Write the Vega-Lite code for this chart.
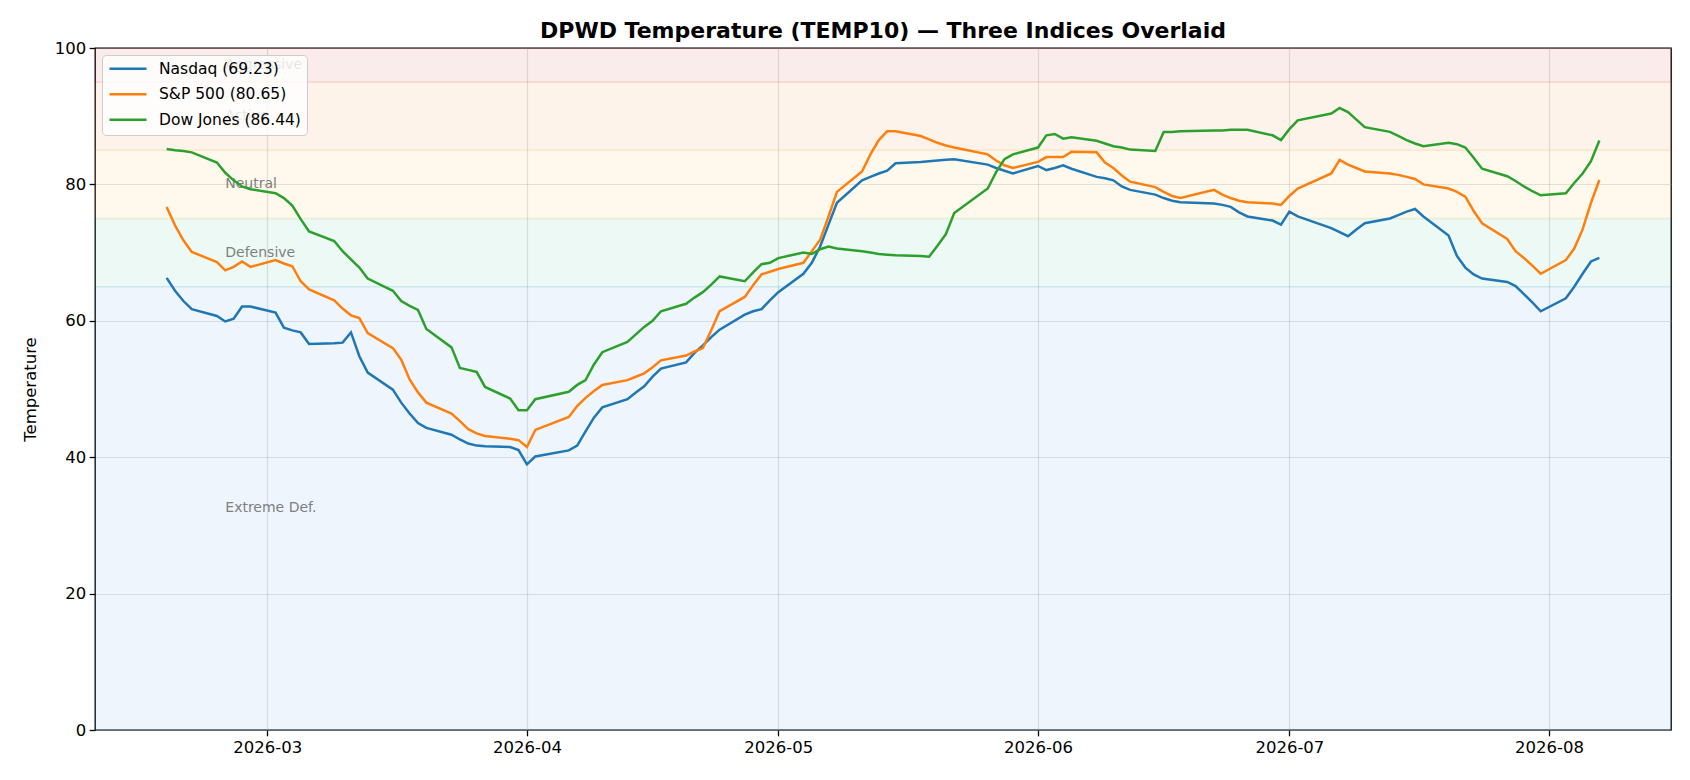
{
  "$schema": "https://vega.github.io/schema/vega-lite/v6.json",
  "width": 1576,
  "height": 682,
  "autosize": "none",
  "padding": {"left": 95, "top": 48, "right": 19, "bottom": 50},
  "background": "white",
  "title": {
    "text": "DPWD Temperature (TEMP10) — Three Indices Overlaid",
    "fontSize": 22,
    "fontWeight": "bold",
    "font": "DejaVu Sans",
    "color": "#000",
    "anchor": "middle",
    "offset": -3
  },
  "datasets": {
    "bands": [
      {"band": "Extreme Def.", "lo": 0, "hi": 65, "mid": 32.5},
      {"band": "Defensive", "lo": 65, "hi": 75, "mid": 70},
      {"band": "Neutral", "lo": 75, "hi": 85, "mid": 80},
      {"band": "Active", "lo": 85, "hi": 95, "mid": 90},
      {"band": "Aggressive", "lo": 95, "hi": 100, "mid": 97.5}
    ],
    "temps": [
      {"date": "2026-02-17", "Nasdaq": 66.3, "S&P 500": 76.7, "Dow Jones": 85.2},
      {"date": "2026-02-18", "Nasdaq": 64.4, "S&P 500": 74.0, "Dow Jones": 85.0},
      {"date": "2026-02-19", "Nasdaq": 62.9, "S&P 500": 71.8, "Dow Jones": 84.9},
      {"date": "2026-02-20", "Nasdaq": 61.7, "S&P 500": 70.1, "Dow Jones": 84.7},
      {"date": "2026-02-23", "Nasdaq": 60.7, "S&P 500": 68.6, "Dow Jones": 83.2},
      {"date": "2026-02-24", "Nasdaq": 59.9, "S&P 500": 67.4, "Dow Jones": 81.7},
      {"date": "2026-02-25", "Nasdaq": 60.3, "S&P 500": 67.9, "Dow Jones": 80.6},
      {"date": "2026-02-26", "Nasdaq": 62.1, "S&P 500": 68.7, "Dow Jones": 79.7},
      {"date": "2026-02-27", "Nasdaq": 62.1, "S&P 500": 67.9, "Dow Jones": 79.3},
      {"date": "2026-03-02", "Nasdaq": 61.2, "S&P 500": 68.9, "Dow Jones": 78.7},
      {"date": "2026-03-03", "Nasdaq": 59.0, "S&P 500": 68.4, "Dow Jones": 78.0},
      {"date": "2026-03-04", "Nasdaq": 58.6, "S&P 500": 68.0, "Dow Jones": 76.9},
      {"date": "2026-03-05", "Nasdaq": 58.3, "S&P 500": 65.8, "Dow Jones": 74.9},
      {"date": "2026-03-06", "Nasdaq": 56.6, "S&P 500": 64.6, "Dow Jones": 73.1},
      {"date": "2026-03-09", "Nasdaq": 56.7, "S&P 500": 63.0, "Dow Jones": 71.7},
      {"date": "2026-03-10", "Nasdaq": 56.8, "S&P 500": 61.8, "Dow Jones": 70.2},
      {"date": "2026-03-11", "Nasdaq": 58.3, "S&P 500": 60.8, "Dow Jones": 69.0},
      {"date": "2026-03-12", "Nasdaq": 54.8, "S&P 500": 60.4, "Dow Jones": 67.8},
      {"date": "2026-03-13", "Nasdaq": 52.4, "S&P 500": 58.2, "Dow Jones": 66.2},
      {"date": "2026-03-16", "Nasdaq": 49.9, "S&P 500": 56.0, "Dow Jones": 64.4},
      {"date": "2026-03-17", "Nasdaq": 48.0, "S&P 500": 54.3, "Dow Jones": 62.9},
      {"date": "2026-03-18", "Nasdaq": 46.4, "S&P 500": 51.4, "Dow Jones": 62.2},
      {"date": "2026-03-19", "Nasdaq": 45.0, "S&P 500": 49.5, "Dow Jones": 61.6},
      {"date": "2026-03-20", "Nasdaq": 44.3, "S&P 500": 48.0, "Dow Jones": 58.8},
      {"date": "2026-03-23", "Nasdaq": 43.3, "S&P 500": 46.4, "Dow Jones": 56.1},
      {"date": "2026-03-24", "Nasdaq": 42.6, "S&P 500": 45.3, "Dow Jones": 53.1},
      {"date": "2026-03-25", "Nasdaq": 42.0, "S&P 500": 44.1, "Dow Jones": 52.8},
      {"date": "2026-03-26", "Nasdaq": 41.7, "S&P 500": 43.5, "Dow Jones": 52.5},
      {"date": "2026-03-27", "Nasdaq": 41.6, "S&P 500": 43.1, "Dow Jones": 50.3},
      {"date": "2026-03-30", "Nasdaq": 41.5, "S&P 500": 42.7, "Dow Jones": 48.6},
      {"date": "2026-03-31", "Nasdaq": 41.05, "S&P 500": 42.5, "Dow Jones": 46.9},
      {"date": "2026-04-01", "Nasdaq": 38.95, "S&P 500": 41.5, "Dow Jones": 46.9},
      {"date": "2026-04-02", "Nasdaq": 40.1, "S&P 500": 44.0, "Dow Jones": 48.5},
      {"date": "2026-04-06", "Nasdaq": 41.0, "S&P 500": 45.9, "Dow Jones": 49.6},
      {"date": "2026-04-07", "Nasdaq": 41.7, "S&P 500": 47.5, "Dow Jones": 50.6},
      {"date": "2026-04-08", "Nasdaq": 43.8, "S&P 500": 48.7, "Dow Jones": 51.3},
      {"date": "2026-04-09", "Nasdaq": 45.8, "S&P 500": 49.7, "Dow Jones": 53.6},
      {"date": "2026-04-10", "Nasdaq": 47.3, "S&P 500": 50.6, "Dow Jones": 55.4},
      {"date": "2026-04-13", "Nasdaq": 48.5, "S&P 500": 51.3, "Dow Jones": 56.9},
      {"date": "2026-04-14", "Nasdaq": 49.5, "S&P 500": 51.8, "Dow Jones": 58.0},
      {"date": "2026-04-15", "Nasdaq": 50.4, "S&P 500": 52.3, "Dow Jones": 59.1},
      {"date": "2026-04-16", "Nasdaq": 51.8, "S&P 500": 53.2, "Dow Jones": 60.0},
      {"date": "2026-04-17", "Nasdaq": 53.0, "S&P 500": 54.2, "Dow Jones": 61.4},
      {"date": "2026-04-20", "Nasdaq": 53.9, "S&P 500": 54.9, "Dow Jones": 62.5},
      {"date": "2026-04-21", "Nasdaq": 55.3, "S&P 500": 55.5, "Dow Jones": 63.4},
      {"date": "2026-04-22", "Nasdaq": 56.4, "S&P 500": 56.0, "Dow Jones": 64.2},
      {"date": "2026-04-23", "Nasdaq": 57.6, "S&P 500": 58.6, "Dow Jones": 65.3},
      {"date": "2026-04-24", "Nasdaq": 58.7, "S&P 500": 61.4, "Dow Jones": 66.5},
      {"date": "2026-04-27", "Nasdaq": 60.9, "S&P 500": 63.5, "Dow Jones": 65.8},
      {"date": "2026-04-28", "Nasdaq": 61.4, "S&P 500": 65.2, "Dow Jones": 67.1},
      {"date": "2026-04-29", "Nasdaq": 61.7, "S&P 500": 66.8, "Dow Jones": 68.3},
      {"date": "2026-04-30", "Nasdaq": 63.0, "S&P 500": 67.2, "Dow Jones": 68.5},
      {"date": "2026-05-01", "Nasdaq": 64.2, "S&P 500": 67.6, "Dow Jones": 69.2},
      {"date": "2026-05-04", "Nasdaq": 66.9, "S&P 500": 68.5, "Dow Jones": 70.0},
      {"date": "2026-05-05", "Nasdaq": 68.5, "S&P 500": 70.2, "Dow Jones": 69.8},
      {"date": "2026-05-06", "Nasdaq": 70.9, "S&P 500": 71.9, "Dow Jones": 70.5},
      {"date": "2026-05-07", "Nasdaq": 74.1, "S&P 500": 75.3, "Dow Jones": 70.9},
      {"date": "2026-05-08", "Nasdaq": 77.3, "S&P 500": 78.9, "Dow Jones": 70.6},
      {"date": "2026-05-11", "Nasdaq": 80.6, "S&P 500": 81.9, "Dow Jones": 70.2},
      {"date": "2026-05-12", "Nasdaq": 81.1, "S&P 500": 84.4, "Dow Jones": 70.0},
      {"date": "2026-05-13", "Nasdaq": 81.6, "S&P 500": 86.5, "Dow Jones": 69.8},
      {"date": "2026-05-14", "Nasdaq": 82.0, "S&P 500": 87.8, "Dow Jones": 69.7},
      {"date": "2026-05-15", "Nasdaq": 83.1, "S&P 500": 87.8, "Dow Jones": 69.6},
      {"date": "2026-05-18", "Nasdaq": 83.3, "S&P 500": 87.1, "Dow Jones": 69.5},
      {"date": "2026-05-19", "Nasdaq": 83.4, "S&P 500": 86.6, "Dow Jones": 69.4},
      {"date": "2026-05-20", "Nasdaq": 83.5, "S&P 500": 86.1, "Dow Jones": 71.0},
      {"date": "2026-05-21", "Nasdaq": 83.6, "S&P 500": 85.7, "Dow Jones": 72.7},
      {"date": "2026-05-22", "Nasdaq": 83.7, "S&P 500": 85.4, "Dow Jones": 75.8},
      {"date": "2026-05-26", "Nasdaq": 82.9, "S&P 500": 84.4, "Dow Jones": 79.4},
      {"date": "2026-05-27", "Nasdaq": 82.4, "S&P 500": 83.5, "Dow Jones": 81.8},
      {"date": "2026-05-28", "Nasdaq": 82.0, "S&P 500": 82.8, "Dow Jones": 83.7},
      {"date": "2026-05-29", "Nasdaq": 81.6, "S&P 500": 82.4, "Dow Jones": 84.4},
      {"date": "2026-06-01", "Nasdaq": 82.7, "S&P 500": 83.3, "Dow Jones": 85.4},
      {"date": "2026-06-02", "Nasdaq": 82.1, "S&P 500": 84.0, "Dow Jones": 87.2},
      {"date": "2026-06-03", "Nasdaq": 82.4, "S&P 500": 84.0, "Dow Jones": 87.4},
      {"date": "2026-06-04", "Nasdaq": 82.8, "S&P 500": 84.0, "Dow Jones": 86.7},
      {"date": "2026-06-05", "Nasdaq": 82.3, "S&P 500": 84.8, "Dow Jones": 86.9},
      {"date": "2026-06-08", "Nasdaq": 81.1, "S&P 500": 84.7, "Dow Jones": 86.4},
      {"date": "2026-06-09", "Nasdaq": 80.9, "S&P 500": 83.2, "Dow Jones": 86.0},
      {"date": "2026-06-10", "Nasdaq": 80.6, "S&P 500": 82.4, "Dow Jones": 85.6},
      {"date": "2026-06-11", "Nasdaq": 79.7, "S&P 500": 81.3, "Dow Jones": 85.4},
      {"date": "2026-06-12", "Nasdaq": 79.2, "S&P 500": 80.4, "Dow Jones": 85.1},
      {"date": "2026-06-15", "Nasdaq": 78.5, "S&P 500": 79.6, "Dow Jones": 84.9},
      {"date": "2026-06-16", "Nasdaq": 78.0, "S&P 500": 78.9, "Dow Jones": 87.7},
      {"date": "2026-06-17", "Nasdaq": 77.6, "S&P 500": 78.3, "Dow Jones": 87.7},
      {"date": "2026-06-18", "Nasdaq": 77.4, "S&P 500": 78.0, "Dow Jones": 87.8},
      {"date": "2026-06-22", "Nasdaq": 77.2, "S&P 500": 79.2, "Dow Jones": 87.9},
      {"date": "2026-06-23", "Nasdaq": 77.0, "S&P 500": 78.5, "Dow Jones": 87.9},
      {"date": "2026-06-24", "Nasdaq": 76.7, "S&P 500": 78.0, "Dow Jones": 88.0},
      {"date": "2026-06-25", "Nasdaq": 75.9, "S&P 500": 77.6, "Dow Jones": 88.0},
      {"date": "2026-06-26", "Nasdaq": 75.3, "S&P 500": 77.4, "Dow Jones": 88.0},
      {"date": "2026-06-29", "Nasdaq": 74.7, "S&P 500": 77.2, "Dow Jones": 87.2},
      {"date": "2026-06-30", "Nasdaq": 74.1, "S&P 500": 77.0, "Dow Jones": 86.5},
      {"date": "2026-07-01", "Nasdaq": 76.0, "S&P 500": 78.3, "Dow Jones": 88.1},
      {"date": "2026-07-02", "Nasdaq": 75.3, "S&P 500": 79.4, "Dow Jones": 89.4},
      {"date": "2026-07-06", "Nasdaq": 73.6, "S&P 500": 81.6, "Dow Jones": 90.4},
      {"date": "2026-07-07", "Nasdaq": 73.0, "S&P 500": 83.6, "Dow Jones": 91.2},
      {"date": "2026-07-08", "Nasdaq": 72.4, "S&P 500": 82.9, "Dow Jones": 90.6},
      {"date": "2026-07-09", "Nasdaq": 73.4, "S&P 500": 82.4, "Dow Jones": 89.5},
      {"date": "2026-07-10", "Nasdaq": 74.3, "S&P 500": 81.9, "Dow Jones": 88.4},
      {"date": "2026-07-13", "Nasdaq": 75.0, "S&P 500": 81.6, "Dow Jones": 87.7},
      {"date": "2026-07-14", "Nasdaq": 75.5, "S&P 500": 81.4, "Dow Jones": 87.1},
      {"date": "2026-07-15", "Nasdaq": 76.0, "S&P 500": 81.1, "Dow Jones": 86.5},
      {"date": "2026-07-16", "Nasdaq": 76.4, "S&P 500": 80.8, "Dow Jones": 86.0},
      {"date": "2026-07-17", "Nasdaq": 75.3, "S&P 500": 80.0, "Dow Jones": 85.6},
      {"date": "2026-07-20", "Nasdaq": 72.5, "S&P 500": 79.4, "Dow Jones": 86.1},
      {"date": "2026-07-21", "Nasdaq": 69.5, "S&P 500": 78.9, "Dow Jones": 85.9},
      {"date": "2026-07-22", "Nasdaq": 67.8, "S&P 500": 78.2, "Dow Jones": 85.4},
      {"date": "2026-07-23", "Nasdaq": 66.8, "S&P 500": 76.1, "Dow Jones": 83.9},
      {"date": "2026-07-24", "Nasdaq": 66.2, "S&P 500": 74.3, "Dow Jones": 82.3},
      {"date": "2026-07-27", "Nasdaq": 65.7, "S&P 500": 72.0, "Dow Jones": 81.2},
      {"date": "2026-07-28", "Nasdaq": 65.1, "S&P 500": 70.2, "Dow Jones": 80.5},
      {"date": "2026-07-29", "Nasdaq": 63.9, "S&P 500": 69.2, "Dow Jones": 79.7},
      {"date": "2026-07-30", "Nasdaq": 62.7, "S&P 500": 68.1, "Dow Jones": 79.0},
      {"date": "2026-07-31", "Nasdaq": 61.4, "S&P 500": 66.9, "Dow Jones": 78.4},
      {"date": "2026-08-03", "Nasdaq": 63.3, "S&P 500": 68.9, "Dow Jones": 78.7},
      {"date": "2026-08-04", "Nasdaq": 65.0, "S&P 500": 70.6, "Dow Jones": 80.2},
      {"date": "2026-08-05", "Nasdaq": 66.9, "S&P 500": 73.4, "Dow Jones": 81.6},
      {"date": "2026-08-06", "Nasdaq": 68.7, "S&P 500": 77.3, "Dow Jones": 83.4},
      {"date": "2026-08-07", "Nasdaq": 69.23, "S&P 500": 80.65, "Dow Jones": 86.44}
    ]
  },
  "layer": [
    {
      "data": {"name": "bands"},
      "mark": {"type": "rect", "fillOpacity": 0.08, "strokeOpacity": 0.08, "strokeWidth": 1.5},
      "encoding": {
        "y": {"field": "lo", "type": "quantitative", "scale": {"domain": [0, 100], "nice": false}, "axis": {"values": [0, 20, 40, 60, 80, 100], "title": "Temperature"}},
        "y2": {"field": "hi"},
        "fill": {"field": "band", "type": "nominal", "scale": {"domain": ["Extreme Def.", "Defensive", "Neutral", "Active", "Aggressive"], "range": ["#2a82da", "#1eb482", "#ffb41e", "#f26905", "#cd1111"]}, "legend": null},
        "stroke": {"field": "band", "type": "nominal", "scale": {"domain": ["Extreme Def.", "Defensive", "Neutral", "Active", "Aggressive"], "range": ["#2a82da", "#1eb482", "#ffb41e", "#f26905", "#cd1111"]}, "legend": null}
      }
    },
    {
      "data": {"name": "bands"},
      "mark": {"type": "text", "align": "left", "baseline": "middle", "fontSize": 14, "color": "#808080", "font": "DejaVu Sans"},
      "encoding": {
        "x": {"datum": {"year": 2026, "month": 2, "date": 24, "utc": true}, "type": "temporal"},
        "y": {"field": "mid", "type": "quantitative"},
        "text": {"field": "band"}
      }
    },
    {
      "data": {"name": "temps"},
      "transform": [{"fold": ["Nasdaq", "S&P 500", "Dow Jones"], "as": ["index", "value"]}],
      "mark": {"type": "line", "strokeWidth": 2.5, "interpolate": "linear"},
      "encoding": {
        "x": {
          "field": "date", "type": "temporal",
          "scale": {"type": "utc", "domain": [{"year": 2026, "month": 2, "date": 8, "hours": 10, "minutes": 48, "utc": true}, {"year": 2026, "month": 8, "date": 15, "hours": 13, "minutes": 12, "utc": true}]},
          "axis": {
            "title": null,
            "format": "%Y-%m",
            "values": [
              {"year": 2026, "month": 3, "date": 1, "utc": true},
              {"year": 2026, "month": 4, "date": 1, "utc": true},
              {"year": 2026, "month": 5, "date": 1, "utc": true},
              {"year": 2026, "month": 6, "date": 1, "utc": true},
              {"year": 2026, "month": 7, "date": 1, "utc": true},
              {"year": 2026, "month": 8, "date": 1, "utc": true}
            ]
          }
        },
        "y": {"field": "value", "type": "quantitative"},
        "color": {
          "field": "index", "type": "nominal",
          "scale": {"domain": ["Nasdaq", "S&P 500", "Dow Jones"], "range": ["#1f77b4", "#ff7f0e", "#2ca02c"]},
          "legend": {
            "title": null,
            "orient": "top-left",
            "offset": 7,
            "labelExpr": "datum.label == 'Nasdaq' ? 'Nasdaq (69.23)' : (datum.label == 'S&P 500' ? 'S&P 500 (80.65)' : 'Dow Jones (86.44)')"
          }
        }
      }
    }
  ],
  "config": {
    "font": "DejaVu Sans",
    "view": {"stroke": "#000", "strokeWidth": 1.3},
    "axis": {
      "domain": false,
      "grid": true,
      "gridColor": "#b0b0b0",
      "gridOpacity": 0.35,
      "gridWidth": 1.2,
      "ticks": true,
      "tickColor": "#000",
      "tickWidth": 1.3,
      "tickSize": 5.8,
      "labelFont": "DejaVu Sans",
      "labelFontSize": 16.5,
      "labelColor": "#000",
      "labelPadding": 3.5,
      "titleFont": "DejaVu Sans",
      "titleFontSize": 16.5,
      "titleFontWeight": "normal",
      "titleColor": "#000",
      "titlePadding": 16
    },
    "axisX": {"labelFlush": false},
    "legend": {
      "fillColor": "rgba(255,255,255,0.8)",
      "strokeColor": "#cccccc",
      "cornerRadius": 4,
      "padding": 6,
      "symbolType": "stroke",
      "symbolSize": 1369,
      "symbolStrokeWidth": 2.5,
      "labelFont": "DejaVu Sans",
      "labelFontSize": 15.5,
      "labelColor": "#000",
      "labelOffset": 11,
      "rowPadding": 8.5,
      "clipHeight": 15.5,
      "labelLimit": 300
    }
  }
}
